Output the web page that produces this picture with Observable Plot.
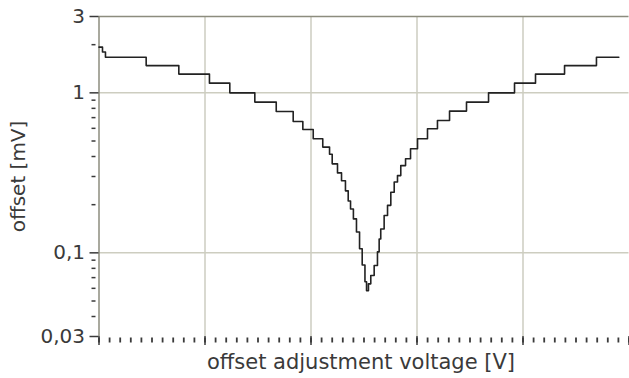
<!DOCTYPE html>
<html><head><meta charset="utf-8">
<script src="https://cdn.jsdelivr.net/npm/d3@7"></script>
<script src="https://cdn.jsdelivr.net/npm/@observablehq/plot@0.6"></script>
<style>body{margin:0;background:#fff;overflow:hidden}</style>
</head><body><div id="chart"></div>
<script>
// step-wise measured offset vs. offset adjustment voltage (arbitrary voltage units)
const voltage = [0, 0.33, 0.61, 4.45, 7.53, 10.42, 12.34, 14.70, 16.72, 18.32, 19.23, 20.21, 21.11, 21.75, 22.0, 22.5, 22.88, 23.25, 23.51, 23.73, 24.0, 24.29, 24.58, 24.83, 25.09, 25.24, 25.42, 25.64, 25.96, 26.27, 26.43, 26.58, 26.9, 27.22, 27.53, 27.85, 28.16, 28.47, 28.92, 29.39, 30.05, 30.99, 31.93, 33.07, 34.67, 36.75, 39.2, 41.18, 43.92, 46.93, 49.04];
const offsetMV = [1.93, 1.80, 1.67, 1.48, 1.31, 1.15, 1.0, 0.875, 0.764, 0.662, 0.590, 0.516, 0.458, 0.413, 0.360, 0.316, 0.282, 0.244, 0.211, 0.188, 0.163, 0.135, 0.106, 0.084, 0.0659, 0.0579, 0.064, 0.0721, 0.0834, 0.1014, 0.122, 0.141, 0.171, 0.198, 0.239, 0.277, 0.304, 0.351, 0.387, 0.447, 0.516, 0.596, 0.671, 0.769, 0.875, 1.0, 1.15, 1.31, 1.48, 1.67, 1.67];

const yMajorTicks = [0.03, 0.1, 1, 3];
const yMinorTicks = [2, 0.9, 0.8, 0.7, 0.6, 0.5, 0.4, 0.3, 0.2, 0.09, 0.08, 0.07, 0.06, 0.05, 0.04];
const yGrid = [0.1, 1];
const xMajorTicks = [0, 10, 20, 30, 40, 50];
const xMinorTicks = d3.range(0, 51);
const xGrid = [10, 20, 30, 40];
const yLabel = "offset [mV]";
const xLabel = "offset adjustment voltage [V]";

const data = voltage.map((v, i) => ({v, o: offsetMV[i]}));

const gridColor = "#cdcdc0";
const frameColor = "#8c8c7e";

const chart = Plot.plot({
  width: 629, height: 378,
  marginLeft: 98.5, marginRight: 0.5, marginTop: 16, marginBottom: 42,
  style: {fontFamily: "DejaVu Sans", fontSize: "20px", color: "#3a3a3a", background: "#fff"},
  x: {domain: [0, 50], axis: null},
  y: {type: "log", domain: [0.03, 3], axis: null},
  marks: [
    Plot.ruleX(xGrid, {stroke: gridColor, strokeWidth: 1.5}),
    Plot.ruleY(yGrid, {stroke: gridColor, strokeWidth: 1.5}),
    Plot.ruleY([3], {stroke: frameColor, strokeWidth: 1.5}),
    Plot.ruleX([0], {stroke: frameColor, strokeWidth: 1.5}),
    Plot.axisY(yMajorTicks, {tickSize: 9, tickPadding: 5, strokeWidth: 1.5,
      tickFormat: d => String(d).replace(".", ","), label: null}),
    Plot.axisY(yMinorTicks, {tickSize: 4, dx: -3, strokeWidth: 1.5, tickFormat: () => "", label: null}),
    Plot.axisX(xMinorTicks, {tickSize: 5, dy: 1.5, strokeWidth: 1.8, tickFormat: () => "", label: null}),
    Plot.axisX(xMajorTicks, {tickSize: 9, strokeWidth: 1.5, tickFormat: () => "", label: null}),
    Plot.line(data, {x: "v", y: "o", curve: "step-after", stroke: "#222", strokeWidth: 1.6}),
    Plot.text([yLabel], {text: d => d, frameAnchor: "left", textAnchor: "middle", lineAnchor: "middle", rotate: -90, dx: -80, fill: "#3a3a3a", fontSize: 20}),
    Plot.text([xLabel], {text: d => d, frameAnchor: "bottom", textAnchor: "middle", dy: 26, dx: -3, fill: "#3a3a3a", fontSize: 21, lineAnchor: "middle"})
  ]
});
document.getElementById("chart").append(chart);
</script>
</body></html>
